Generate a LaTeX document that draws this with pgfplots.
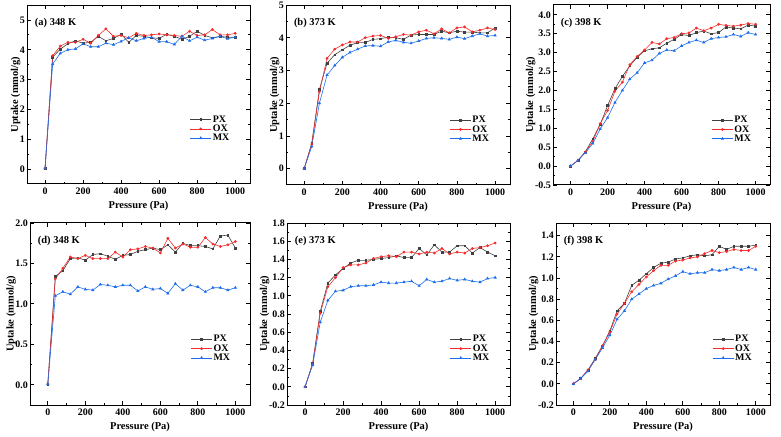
\documentclass[border=0pt]{standalone}
\usepackage{fontspec}
\setmainfont{Liberation Serif}
\usepackage{pgfplots}
\usepackage{pgfplotstable}
\pgfplotsset{compat=1.18}

\definecolor{cpx}{RGB}{64,64,64}
\definecolor{cox}{RGB}{245,45,45}
\definecolor{cmx}{RGB}{30,110,235}

% columns: pressure (Pa), PX, OX, MX
\pgfplotstableread{
p    px    ox    mx
0    0.03  0.03  0.03
40   3.75  3.80  3.52
80   4.02  4.12  3.88
120  4.20  4.25  4.00
160  4.30  4.25  4.03
200  4.22  4.35  4.20
240  4.25  4.22  4.10
280  4.45  4.48  4.10
320  4.30  4.70  4.22
360  4.38  4.45  4.17
400  4.52  4.48  4.28
440  4.25  4.40  4.40
480  4.48  4.55  4.30
520  4.45  4.48  4.38
560  4.40  4.50  4.42
600  4.38  4.53  4.27
640  4.52  4.50  4.27
680  4.45  4.48  4.18
720  4.35  4.45  4.45
760  4.45  4.62  4.30
800  4.62  4.48  4.42
840  4.48  4.50  4.32
880  4.40  4.68  4.38
920  4.45  4.50  4.45
960  4.42  4.50  4.37
1000 4.42  4.55  4.42
}\dataA

\pgfplotstableread{
p    px    ox    mx
0    0.00  0.00  0.00
40   0.78  0.75  0.68
80   2.42  2.35  2.00
120  3.22  3.37  2.86
160  3.48  3.65  3.15
200  3.63  3.78  3.40
240  3.77  3.87  3.55
280  3.85  3.87  3.65
320  3.85  4.00  3.75
360  3.95  4.05  3.76
400  3.97  4.07  3.74
440  4.02  3.98  3.87
480  4.00  4.03  3.92
520  3.95  4.10  3.86
560  4.08  4.08  3.83
600  4.10  4.18  3.90
640  4.10  4.23  3.98
680  4.10  4.12  4.00
720  4.20  4.27  3.98
760  4.15  4.15  3.95
800  4.20  4.30  4.02
840  4.17  4.33  3.97
880  4.17  4.18  4.05
920  4.15  4.23  4.12
960  4.15  4.30  4.05
1000 4.30  4.25  4.07
}\dataB

\pgfplotstableread{
p    px    ox    mx
0    0.00  0.00  0.00
40   0.15  0.15  0.15
80   0.38  0.37  0.35
120  0.72  0.65  0.60
160  1.10  1.12  0.98
200  1.60  1.47  1.28
240  2.05  1.98  1.68
280  2.37  2.22  2.00
320  2.65  2.68  2.30
360  2.88  2.90  2.47
400  3.05  3.07  2.73
440  3.10  3.27  2.80
480  3.13  3.23  2.98
520  3.25  3.37  3.07
560  3.35  3.40  3.05
600  3.48  3.50  3.18
640  3.45  3.52  3.27
680  3.53  3.65  3.33
720  3.57  3.58  3.27
760  3.50  3.65  3.37
800  3.53  3.75  3.40
840  3.68  3.72  3.42
880  3.65  3.70  3.48
920  3.63  3.73  3.43
960  3.73  3.77  3.53
1000 3.70  3.75  3.48
}\dataC

\pgfplotstableread{
p    px    ox    mx
0    0.01  0.01  0.01
40   1.34  1.31  1.10
80   1.41  1.44  1.15
120  1.56  1.58  1.12
160  1.57  1.56  1.21
200  1.54  1.60  1.18
240  1.61  1.56  1.17
280  1.62  1.56  1.24
320  1.59  1.56  1.23
360  1.55  1.64  1.21
400  1.60  1.58  1.23
440  1.61  1.67  1.23
480  1.65  1.68  1.16
520  1.67  1.71  1.21
560  1.69  1.69  1.18
600  1.67  1.63  1.19
640  1.73  1.81  1.13
680  1.64  1.69  1.25
720  1.75  1.74  1.17
760  1.72  1.70  1.23
800  1.72  1.70  1.21
840  1.71  1.82  1.15
880  1.68  1.74  1.20
920  1.84  1.71  1.20
960  1.85  1.73  1.17
1000 1.69  1.77  1.20
}\dataD

\pgfplotstableread{
p    px    ox    mx
0    0.00  0.00  0.00
40   0.26  0.25  0.24
80   0.83  0.81  0.71
120  1.14  1.10  0.95
160  1.23  1.20  1.05
200  1.30  1.31  1.06
240  1.36  1.34  1.10
280  1.39  1.34  1.11
320  1.39  1.36  1.11
360  1.40  1.41  1.12
400  1.41  1.43  1.15
440  1.42  1.44  1.14
480  1.44  1.43  1.14
520  1.42  1.48  1.15
560  1.42  1.48  1.16
600  1.52  1.46  1.11
640  1.45  1.48  1.18
680  1.56  1.47  1.15
720  1.48  1.52  1.16
760  1.48  1.46  1.19
800  1.55  1.48  1.17
840  1.55  1.47  1.18
880  1.47  1.52  1.16
920  1.53  1.53  1.15
960  1.48  1.55  1.19
1000 1.44  1.58  1.20
}\dataE

\pgfplotstableread{
p    px    ox    mx
0    0.00  0.00  0.00
40   0.05  0.05  0.05
80   0.13  0.13  0.12
120  0.24  0.23  0.23
160  0.36  0.36  0.34
200  0.50  0.49  0.46
240  0.69  0.66  0.61
280  0.76  0.76  0.69
320  0.93  0.87  0.80
360  0.98  0.94  0.85
400  1.04  1.01  0.90
440  1.10  1.07  0.93
480  1.14  1.12  0.95
520  1.15  1.12  0.99
560  1.18  1.16  1.02
600  1.19  1.17  1.06
640  1.21  1.19  1.04
680  1.22  1.20  1.05
720  1.21  1.23  1.05
760  1.22  1.26  1.08
800  1.30  1.24  1.07
840  1.27  1.25  1.08
880  1.30  1.27  1.10
920  1.30  1.26  1.08
960  1.30  1.26  1.10
1000 1.31  1.30  1.08
}\dataF

\pgfplotsset{
  panel/.style={
    scale only axis,
    anchor=south west,
    xmin=-95, xmax=1078,
    xtick={0,200,...,1000},
    minor x tick num=1,
    minor y tick num=1,
    tick align=inside,
    axis line style={line width=1pt},
    major tick length=4bp,
    minor tick length=2bp,
    every tick/.style={black, line width=0.8pt},
    tick label style={font=\fontsize{10}{11}\selectfont\bfseries},
    yticklabel style={inner sep=2pt},
    label style={font=\fontsize{10.5}{12}\selectfont\bfseries},
    /pgf/number format/assume math mode=true,
    /pgf/number format/1000 sep={},
    xlabel={Pressure (Pa)},
    ylabel={Uptake (mmol/g)},
    xlabel style={yshift=0bp},
    ylabel style={yshift=-6bp},
    legend style={draw=none, fill=none, anchor=north west,
      font=\fontsize{10}{10}\selectfont\bfseries,
      row sep=-1.2pt, inner sep=0pt,
      nodes={inner sep=1.2pt}},
    legend cell align=left,
    legend image code/.code={
      \draw[mark repeat=2, mark phase=2, ##1]
        plot coordinates {(0cm,0cm) (0.37cm,0cm) (0.74cm,0cm)};},
  },
  dec1/.style={yticklabel style={/pgf/number format/.cd, fixed, fixed zerofill, precision=1}},
  spx/.style={color=cpx, line width=0.6pt, mark=square*, mark size=0.9pt},
  sox/.style={color=cox, line width=0.6pt, mark=*, mark size=1.1pt},
  smx/.style={color=cmx, line width=0.6pt, mark=triangle*, mark size=1.3pt},
}

\newcommand{\tag}[1]{\node[anchor=west, font=\fontsize{10.5}{12}\selectfont\bfseries]
  at (rel axis cs:0.02,0.9) {#1};}

\begin{document}
\begin{tikzpicture}
\useasboundingbox (0,0) rectangle (781bp,437bp);

% (a)
\begin{axis}[panel, at={(27bp,253bp)}, width=223bp, height=179bp,
  ymin=-0.5, ymax=5.5, ytick={0,1,...,5},
  legend style={at={(rel axis cs:0.73,0.39)}}]
\addplot[spx] table[x=p, y=px] {\dataA};
\addplot[sox] table[x=p, y=ox] {\dataA};
\addplot[smx] table[x=p, y=mx] {\dataA};
\legend{PX,OX,MX}
\tag{(a) 348 K}
\end{axis}

% (b)
\begin{axis}[panel, at={(286bp,252bp)}, width=224bp, height=180bp,
  ymin=-0.5, ymax=5, ytick={0,1,...,5},
  legend style={at={(rel axis cs:0.73,0.39)}}]
\addplot[spx] table[x=p, y=px] {\dataB};
\addplot[sox] table[x=p, y=ox] {\dataB};
\addplot[smx] table[x=p, y=mx] {\dataB};
\legend{PX,OX,MX}
\tag{(b) 373 K}
\end{axis}

% (c)
\begin{axis}[panel, dec1, at={(553bp,252bp)}, width=217bp, height=180bp,
  ymin=-0.5, ymax=4.26, ytick={-0.5,0,...,4},
  legend style={at={(rel axis cs:0.73,0.39)}}]
\addplot[spx] table[x=p, y=px] {\dataC};
\addplot[sox] table[x=p, y=ox] {\dataC};
\addplot[smx] table[x=p, y=mx] {\dataC};
\legend{PX,OX,MX}
\tag{(c) 398 K}
\end{axis}

% (d)
\begin{axis}[panel, dec1, at={(30bp,32bp)}, width=220bp, height=182bp,
  ymin=-0.25, ymax=2.0, ytick={0,0.5,...,2.0},
  legend style={at={(rel axis cs:0.73,0.39)}}]
\addplot[spx] table[x=p, y=px] {\dataD};
\addplot[sox] table[x=p, y=ox] {\dataD};
\addplot[smx] table[x=p, y=mx] {\dataD};
\legend{PX,OX,MX}
\tag{(d) 348 K}
\end{axis}

% (e)
\begin{axis}[panel, dec1, at={(287bp,32bp)}, width=223bp, height=182bp,
  ymin=-0.2, ymax=1.8, ytick={-0.2,0,0.2,0.4,0.6,0.8,1.0,1.2,1.4,1.6,1.8},
  legend style={at={(rel axis cs:0.73,0.39)}}]
\addplot[spx] table[x=p, y=px] {\dataE};
\addplot[sox] table[x=p, y=ox] {\dataE};
\addplot[smx] table[x=p, y=mx] {\dataE};
\legend{PX,OX,MX}
\tag{(e) 373 K}
\end{axis}

% (f)
\begin{axis}[panel, dec1, at={(556bp,32bp)}, width=214bp, height=182bp,
  ymin=-0.2, ymax=1.52, ytick={-0.2,0,0.2,0.4,0.6,0.8,1.0,1.2,1.4},
  legend style={at={(rel axis cs:0.73,0.39)}}]
\addplot[spx] table[x=p, y=px] {\dataF};
\addplot[sox] table[x=p, y=ox] {\dataF};
\addplot[smx] table[x=p, y=mx] {\dataF};
\legend{PX,OX,MX}
\tag{(f) 398 K}
\end{axis}
\end{tikzpicture}
\end{document}
